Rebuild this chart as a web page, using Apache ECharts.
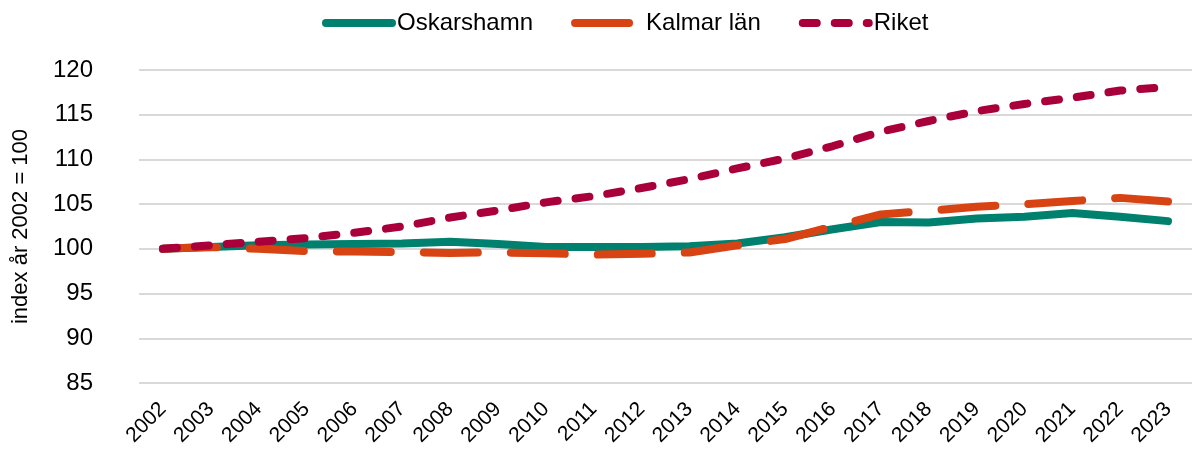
<!DOCTYPE html>
<html>
<head>
<meta charset="utf-8">
<script src="https://cdn.jsdelivr.net/npm/echarts@6/dist/echarts.min.js"></script>
<style>html,body{margin:0;padding:0;background:#fff}#c{width:1192px;height:450px}</style>
</head>
<body>
<div id="c"></div>
<script>
const years = ['2002','2003','2004','2005','2006','2007','2008','2009','2010','2011','2012','2013','2014','2015','2016','2017','2018','2019','2020','2021','2022','2023'];
const oskarshamn = [100, 100.2, 100.4, 100.5, 100.55, 100.6, 100.8, 100.55, 100.2, 100.2, 100.2, 100.3, 100.6, 101.3, 102.2, 103.0, 102.95, 103.4, 103.6, 104.0, 103.6, 103.1];
const kalmar = [100, 100.2, 100.0, 99.75, 99.7, 99.65, 99.55, 99.6, 99.5, 99.35, 99.45, 99.6, 100.4, 101.1, 102.5, 103.85, 104.25, 104.7, 105.0, 105.35, 105.7, 105.3];
const riket = [100, 100.4, 100.8, 101.2, 101.8, 102.5, 103.5, 104.3, 105.2, 105.9, 106.8, 107.8, 109.0, 110.1, 111.5, 113.1, 114.3, 115.4, 116.2, 116.9, 117.7, 118.1];
const yTicks = {min: 85, max: 120, interval: 5};
const names = ['Oskarshamn', 'Kalmar län', 'Riket'];
const colors = ['#00806E', '#D74313', '#A9003B'];

const font = 'Liberation Sans, Arial, sans-serif';
const chart = echarts.init(document.getElementById('c'), null, {renderer: 'canvas'});
chart.setOption({
  animation: false,
  color: colors,
  legend: {
    left: 317, top: 6,
    itemWidth: 66, itemHeight: 26, itemGap: 38,
    itemStyle: {opacity: 0},
    lineStyle: {width: 8, cap: 'round'},
    textStyle: {fontFamily: font, fontSize: 24, color: '#000'},
    data: names
  },
  grid: {left: 139, right: -12, top: 70, bottom: 67},
  xAxis: {
    type: 'category', data: years, boundaryGap: true,
    axisLine: {show: false}, axisTick: {show: false},
    axisLabel: {rotate: 45, fontFamily: font, fontSize: 21, color: '#000', margin: 23, interval: 0}
  },
  yAxis: {
    type: 'value', min: yTicks.min, max: yTicks.max, interval: yTicks.interval,
    axisLine: {show: false}, axisTick: {show: false},
    splitLine: {lineStyle: {color: '#d9d9d9', width: 2}},
    axisLabel: {fontFamily: font, fontSize: 24, color: '#000', margin: 46},
    name: 'index år 2002 = 100', nameLocation: 'middle', nameGap: 107,
    nameTextStyle: {fontFamily: font, fontSize: 22, color: '#000'}
  },
  series: [
    {name: names[0], type: 'line', data: oskarshamn, symbol: 'none', z: 3,
     lineStyle: {width: 8, color: colors[0], cap: 'round', join: 'round'}},
    {name: names[1], type: 'line', data: kalmar, symbol: 'none', z: 4,
     lineStyle: {width: 8, color: colors[1], type: [54, 33], cap: 'round', join: 'round'}},
    {name: names[2], type: 'line', data: riket, symbol: 'none', z: 5,
     lineStyle: {width: 8, color: colors[2], type: [14, 18], cap: 'round', join: 'round'}}
  ]
});
</script>
</body>
</html>
